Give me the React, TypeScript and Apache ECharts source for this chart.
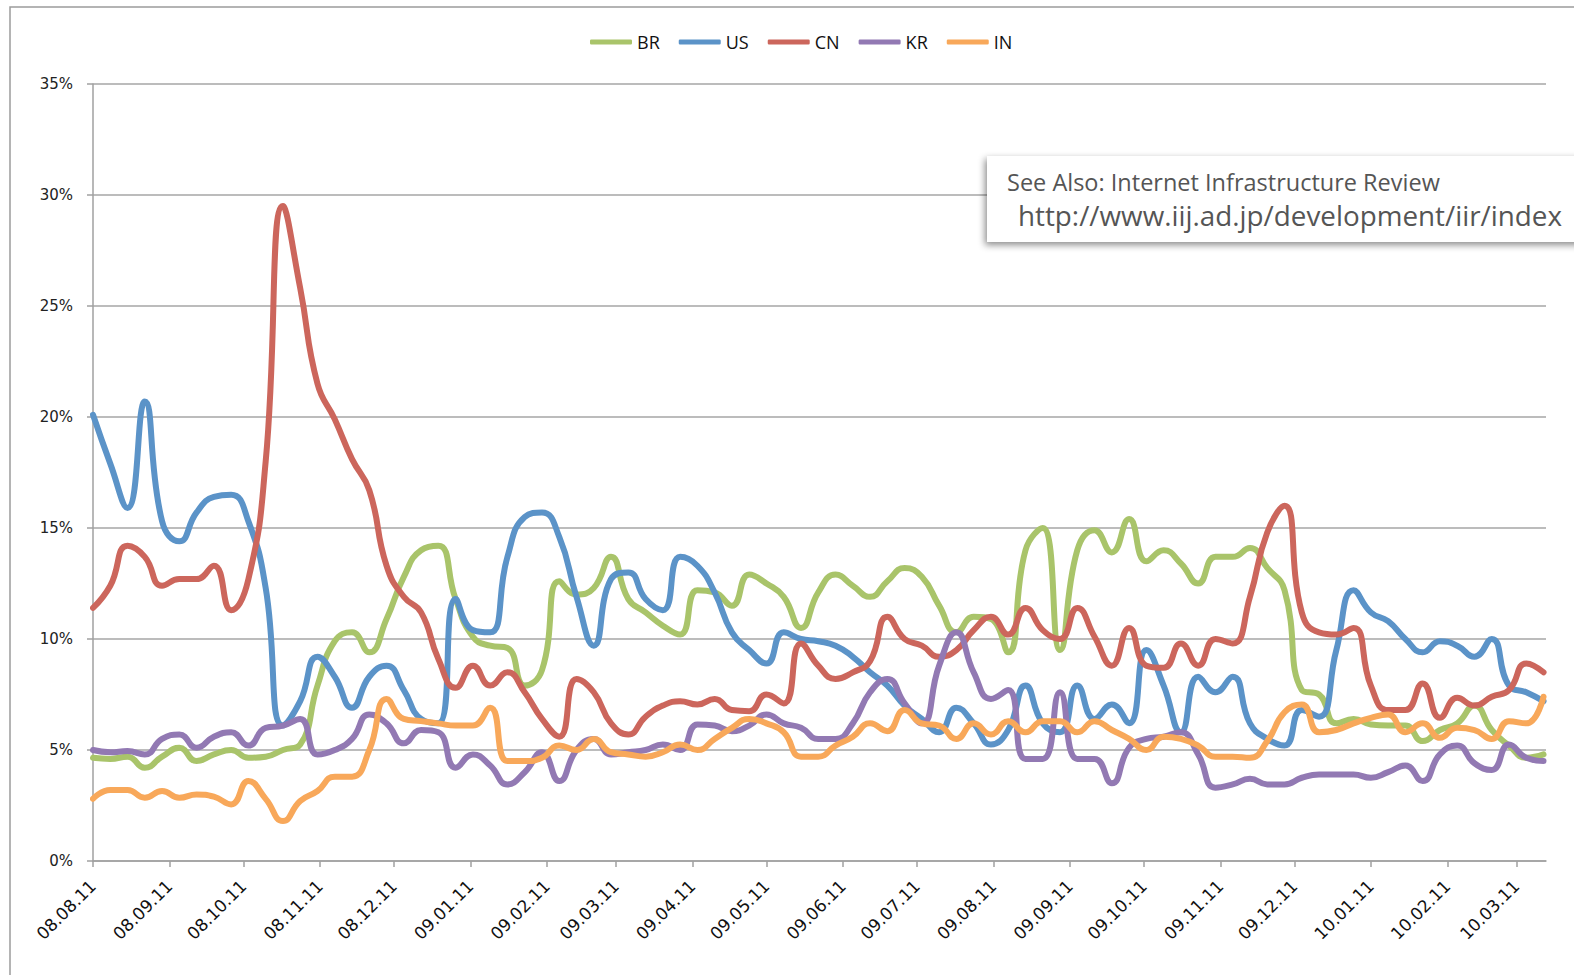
import React, { useEffect, useRef } from "react";
import * as echarts from "echarts";

const SERIES_NAMES = ["BR", "US", "CN", "KR", "IN"];
const COLORS = ["#A9C46A", "#5B93C8", "#CC665C", "#9279B3", "#F8A85A"];

// weekly samples starting 2008-08-11; x is measured in days since that date
const START = Date.UTC(2008, 7, 11);
const DAY = 86400000;
const WEEK_COUNT = 85;
const weekDays = Array.from({ length: WEEK_COUNT }, (_, i) => i * 7);

const tickLabels = [
  "08.08.11", "08.09.11", "08.10.11", "08.11.11", "08.12.11",
  "09.01.11", "09.02.11", "09.03.11", "09.04.11", "09.05.11",
  "09.06.11", "09.07.11", "09.08.11", "09.09.11", "09.10.11",
  "09.11.11", "09.12.11", "10.01.11", "10.02.11", "10.03.11",
];
const tickDays = tickLabels.map((s) => {
  const [yy, mm, dd] = s.split(".").map(Number);
  return Math.round((Date.UTC(2000 + yy, mm - 1, dd) - START) / DAY);
});

const BR = [4.65, 4.6, 4.7, 4.2, 4.7, 5.1, 4.5, 4.8, 5.0, 4.65, 4.7, 5.0, 5.25, 7.9, 9.9, 10.3, 9.4, 10.9, 12.8, 14.0, 14.2, 11.8, 10.1, 9.7, 9.6, 7.9, 8.6, 12.6, 12.0, 12.3, 13.7, 11.8, 11.2, 10.6, 10.2, 12.2, 12.1, 11.5, 12.9, 12.5, 11.9, 10.5, 12.1, 12.9, 12.4, 11.9, 12.6, 13.2, 12.8, 11.5, 10.3, 11.0, 10.9, 9.4, 14.0, 15.0, 9.5, 14.0, 14.9, 13.9, 15.4, 13.5, 14.0, 13.4, 12.5, 13.7, 13.7, 14.1, 13.2, 12.2, 7.7, 7.5, 6.2, 6.4, 6.15, 6.1, 6.1, 5.4, 5.9, 6.2, 7.0, 5.9, 5.2, 4.65, 4.8];
const US = [20.1, 17.9, 15.9, 20.7, 15.3, 14.4, 15.7, 16.4, 16.5, 15.3, 12.3, 6.1, 7.2, 9.2, 8.3, 6.9, 8.3, 8.8, 7.7, 6.4, 6.2, 11.8, 10.4, 10.3, 13.7, 15.5, 15.7, 14.6, 11.9, 9.7, 12.7, 13.0, 11.8, 11.3, 13.7, 13.3, 12.1, 10.3, 9.5, 8.9, 10.3, 10.0, 9.9, 9.7, 9.2, 8.5, 7.9, 7.0, 6.4, 5.8, 6.9, 6.2, 5.25, 5.9, 7.9, 6.2, 5.8, 7.9, 6.4, 7.05, 6.2, 9.5, 7.9, 5.8, 8.3, 7.6, 8.3, 6.2, 5.5, 5.2, 6.8, 6.5, 9.5, 12.2, 11.2, 10.8, 10.0, 9.4, 9.9, 9.7, 9.2, 10.0, 7.9, 7.6, 7.2];
const CN = [11.4, 12.4, 14.2, 13.7, 12.4, 12.7, 12.7, 13.3, 11.3, 12.7, 18.0, 29.5, 25.8, 21.5, 19.9, 18.1, 16.7, 13.3, 11.9, 11.2, 9.1, 7.8, 8.8, 7.9, 8.5, 7.6, 6.4, 5.6, 8.2, 7.6, 6.2, 5.7, 6.5, 7.0, 7.2, 7.05, 7.3, 6.8, 6.75, 7.5, 7.1, 9.8, 8.8, 8.2, 8.5, 9.0, 11.0, 10.0, 9.7, 9.2, 9.5, 10.4, 11.0, 10.2, 11.4, 10.4, 10.0, 11.4, 10.1, 8.8, 10.5, 8.8, 8.7, 9.8, 8.8, 10.0, 9.8, 11.9, 14.8, 16.0, 11.2, 10.3, 10.2, 10.5, 7.9, 6.8, 6.8, 8.0, 6.45, 7.35, 7.0, 7.4, 7.7, 8.9, 8.5];
const KR = [5.0, 4.9, 4.95, 4.8, 5.5, 5.7, 5.1, 5.6, 5.8, 5.2, 6.0, 6.1, 6.4, 4.8, 5.0, 5.5, 6.6, 6.2, 5.3, 5.9, 5.8, 4.2, 4.8, 4.3, 3.45, 4.0, 4.9, 3.6, 5.0, 5.5, 4.8, 4.9, 5.0, 5.25, 5.0, 6.15, 6.1, 5.85, 6.1, 6.6, 6.2, 6.0, 5.5, 5.5, 6.2, 7.6, 8.2, 7.1, 6.2, 8.8, 10.3, 8.5, 7.3, 7.7, 4.6, 4.6, 7.6, 4.6, 4.6, 3.5, 5.1, 5.5, 5.6, 5.8, 4.8, 3.3, 3.45, 3.7, 3.45, 3.45, 3.75, 3.9, 3.9, 3.9, 3.75, 4.0, 4.3, 3.6, 4.8, 5.2, 4.4, 4.1, 5.25, 4.65, 4.5];
const IN = [2.8, 3.2, 3.2, 2.85, 3.15, 2.85, 3.0, 2.9, 2.55, 3.6, 2.8, 1.8, 2.7, 3.15, 3.8, 3.8, 5.0, 7.3, 6.4, 6.3, 6.2, 6.1, 6.1, 6.9, 4.5, 4.5, 4.65, 5.2, 5.0, 5.5, 4.9, 4.8, 4.7, 4.9, 5.25, 5.0, 5.5, 6.0, 6.4, 6.2, 5.8, 4.7, 4.7, 5.2, 5.6, 6.2, 5.85, 6.8, 6.2, 6.1, 5.5, 6.2, 5.7, 6.3, 5.8, 6.3, 6.3, 5.8, 6.3, 5.9, 5.5, 5.0, 5.6, 5.5, 5.2, 4.7, 4.7, 4.65, 5.4, 6.7, 7.05, 5.8, 5.9, 6.2, 6.45, 6.6, 5.8, 6.2, 5.55, 6.0, 5.9, 5.5, 6.3, 6.2, 7.4];

const SERIES_VALUES = [BR, US, CN, KR, IN];

const NOTE_LINE_1 = "See Also: Internet Infrastructure Review";
const NOTE_LINE_2 = "http://www.iij.ad.jp/development/iir/index";

export default function App() {
  const ref = useRef<HTMLDivElement>(null);

  useEffect(() => {
    if (!ref.current) return;
    const chart = echarts.init(ref.current, undefined, { renderer: "svg" });
    const axisColor = "#A0A0A0";
    const option: any = {
      animation: false,
      backgroundColor: "#ffffff",
      color: COLORS,
      legend: {
        data: SERIES_NAMES,
        left: 585,
        top: 28,
        icon: "roundRect",
        itemWidth: 42,
        itemHeight: 5,
        itemGap: 19,
        textStyle: { fontFamily: "Open Sans", fontSize: 18, color: "#111" },
      },
      grid: { left: 93, right: 28, top: 84, bottom: 114, containLabel: false },
      xAxis: {
        type: "value",
        min: 0,
        max: weekDays[weekDays.length - 1] + 1,
        axisLine: { show: true, onZero: false, lineStyle: { color: axisColor, width: 1.5 } },
        axisTick: {
          show: true,
          length: 6,
          customValues: tickDays,
          lineStyle: { color: axisColor, width: 1.5 },
        },
        axisLabel: {
          customValues: tickDays,
          rotate: 45,
          margin: 22,
          fontFamily: "DejaVu Sans",
          fontSize: 17,
          color: "#111",
          formatter: (v: number) => {
            const idx = tickDays.indexOf(Math.round(v));
            return idx >= 0 ? tickLabels[idx] : "";
          },
        },
        splitLine: { show: false },
      },
      yAxis: {
        type: "value",
        min: 0,
        max: 35,
        interval: 5,
        axisLine: { show: true, lineStyle: { color: axisColor, width: 1.5 } },
        axisTick: { show: true, length: 6, lineStyle: { color: axisColor, width: 1.5 } },
        axisLabel: {
          formatter: "{value}%",
          margin: 20,
          fontFamily: "DejaVu Sans",
          fontSize: 15,
          color: "#222",
        },
        splitLine: { show: true, lineStyle: { color: "#A6A6A6", width: 1.5 } },
      },
      series: SERIES_NAMES.map((name, k) => ({
        name,
        type: "line",
        smooth: 0.5,
        showSymbol: false,
        symbol: "none",
        lineStyle: { width: 6, color: COLORS[k], cap: "round", join: "round" },
        itemStyle: { color: COLORS[k] },
        data: weekDays.map((d, i) => [d, SERIES_VALUES[k][i]]),
        z: 2 + k,
      })),
      graphic: [
        {
          type: "rect",
          silent: true,
          z: 0,
          shape: { x: 10, y: 7, width: 1700, height: 1100 },
          style: { fill: "none", stroke: "#9C9C9C", lineWidth: 1.5 },
        },
        {
          type: "rect",
          silent: true,
          z: 100,
          shape: { x: 987, y: 156, width: 700, height: 86 },
          style: {
            fill: "#ffffff",
            shadowBlur: 7,
            shadowColor: "rgba(0,0,0,0.45)",
            shadowOffsetX: -2,
            shadowOffsetY: 3,
          },
        },
        {
          type: "text",
          silent: true,
          z: 101,
          x: 1007,
          y: 182,
          style: {
            text: NOTE_LINE_1,
            fontFamily: "Open Sans",
            fontSize: 23.5,
            lineHeight: 24,
            fill: "#555555",
            verticalAlign: "middle",
            align: "left",
          },
        },
        {
          type: "text",
          silent: true,
          z: 101,
          x: 1018,
          y: 215,
          style: {
            text: NOTE_LINE_2,
            fontFamily: "Open Sans",
            fontSize: 27.8,
            lineHeight: 28,
            fill: "#555555",
            verticalAlign: "middle",
            align: "left",
          },
        },
      ],
    };
    chart.setOption(option);
    return () => chart.dispose();
  }, []);

  return (
    <div
      ref={ref}
      style={{ position: "absolute", left: 0, top: 0, width: 1574, height: 975, background: "#fff" }}
    />
  );
}
